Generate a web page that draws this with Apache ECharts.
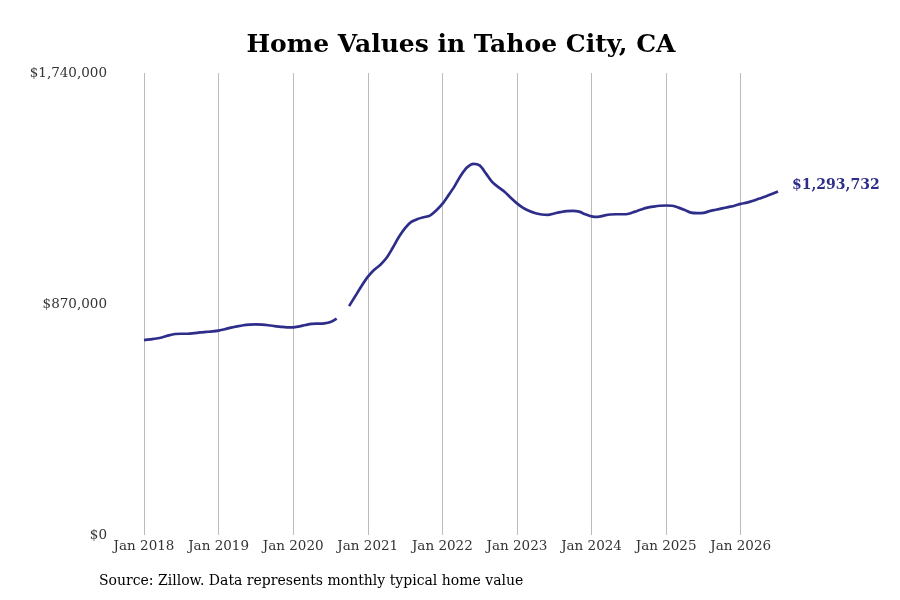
<!DOCTYPE html>
<html lang="en">
<head>
    <meta charset="UTF-8">
    <title>Home Values in Tahoe City, CA</title>
    <script src="https://cdn.jsdelivr.net/npm/echarts@6/dist/echarts.min.js"></script>
    <style>
        body { margin: 0; background: #fff; }
        #chart { width: 900px; height: 600px; }
    </style>
</head>
<body>
<div id="chart"></div>
<script>
    // monthly typical home value, Jan 2018 .. Jul 2026 (Sep 2020 missing)
    var years = [2018, 2019, 2020, 2021, 2022, 2023, 2024, 2025, 2026];
    var v2018 = [734000, 737000, 740000, 745000, 752000, 757000, 758000, 758000, 760000, 763000, 765000, 767000];
    var v2019 = [770000, 775000, 781000, 786000, 790000, 792000, 793000, 792000, 790000, 787000, 784000, 782000];
    var v2020 = [782000, 786000, 791000, 795000, 796000, 797000, 802000, 815000, null, 862000, 900000, 938000];
    var v2021 = [972000, 998000, 1017000, 1043000, 1081000, 1122000, 1156000, 1179000, 1190000, 1197000, 1203000, 1222000];
    var v2022 = [1247000, 1280000, 1315000, 1355000, 1385000, 1398000, 1392000, 1362000, 1330000, 1310000, 1293000, 1270000];
    var v2023 = [1249000, 1232000, 1220000, 1212000, 1207000, 1206000, 1211000, 1216000, 1220000, 1221000, 1218000, 1208000];
    var v2024 = [1200000, 1198000, 1203000, 1207000, 1208000, 1208000, 1210000, 1218000, 1226000, 1233000, 1237000, 1240000];
    var v2025 = [1241000, 1240000, 1233000, 1224000, 1214000, 1212000, 1213000, 1220000, 1225000, 1230000, 1235000, 1240000];
    var v2026 = [1247000, 1252000, 1259000, 1267000, 1275000, 1284000, 1293732];
    var yTicks = [0, 870000, 1740000];

    var months = ['Jan', 'Feb', 'Mar', 'Apr', 'May', 'Jun', 'Jul', 'Aug', 'Sep', 'Oct', 'Nov', 'Dec'];
    var values = [].concat(v2018, v2019, v2020, v2021, v2022, v2023, v2024, v2025, v2026);
    var cats = [];
    for (var i = 0; i < values.length; i++) {
        cats.push(months[i % 12] + ' ' + years[Math.floor(i / 12)]);
    }

    function money(n) {
        return '$' + n.toString().replace(/\B(?=(\d{3})+(?!\d))/g, ',');
    }

    var lineColor = '#2e2e8a';
    var chart = echarts.init(document.getElementById('chart'));
    chart.setOption({
        animation: false,
        textStyle: { fontFamily: 'DejaVu Serif' },
        title: {
            text: 'Home Values in Tahoe City, CA',
            left: 456, top: 28, textAlign: 'center',
            textStyle: { fontFamily: 'DejaVu Serif', fontSize: 25, fontWeight: 'bold', color: '#000' }
        },
        graphic: [{
            type: 'text', left: 99, top: 574,
            style: { text: 'Source: Zillow. Data represents monthly typical home value', font: '14px "DejaVu Serif"', fill: '#000' }
        }],
        grid: { left: 144, right: 122, top: 73, bottom: 65 },
        xAxis: {
            type: 'category',
            data: cats,
            boundaryGap: false,
            axisLine: { show: false },
            axisTick: { show: false },
            axisLabel: {
                interval: function (idx) { return idx % 12 === 0; },
                color: '#333', fontSize: 13.5, margin: 4
            },
            splitLine: {
                show: true,
                interval: function (idx) { return idx % 12 === 0; },
                lineStyle: { color: '#bbb', width: 1 }
            }
        },
        yAxis: {
            type: 'value',
            min: yTicks[0], max: yTicks[2], interval: yTicks[1],
            axisLine: { show: false },
            axisTick: { show: false },
            splitLine: { show: false },
            axisLabel: { color: '#333', fontSize: 13.5, margin: 37, padding: [3, 0, 0, 0], formatter: money }
        },
        series: [{
            type: 'line',
            data: values,
            smooth: 0.3,
            connectNulls: false,
            showSymbol: false,
            lineStyle: { color: lineColor, width: 2.7 },
            endLabel: {
                show: true,
                formatter: function (p) { return money(p.value); },
                color: lineColor, fontWeight: 'bold', fontSize: 14,
                fontFamily: 'DejaVu Serif', distance: 14, offset: [0, -6]
            }
        }]
    });
</script>
</body>
</html>
